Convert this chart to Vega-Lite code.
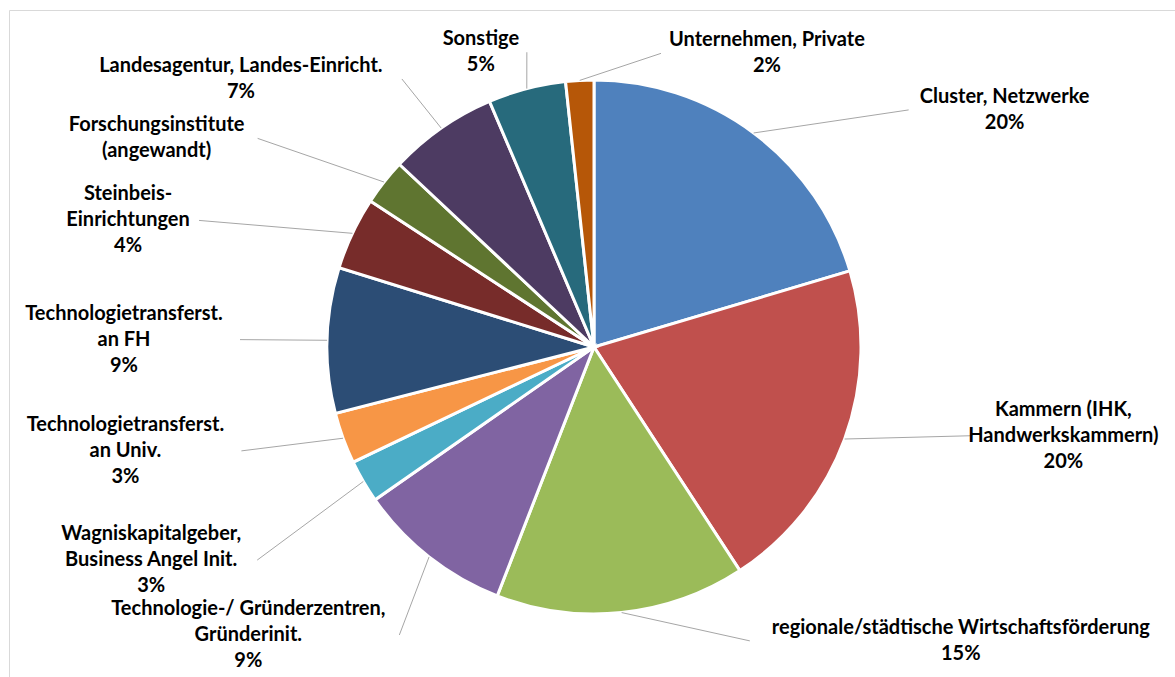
{
  "$schema": "https://vega.github.io/schema/vega-lite/v6.json",
  "width": 1170,
  "height": 674,
  "autosize": {"type": "none"},
  "padding": {"left": 9, "top": 10, "right": 0, "bottom": 0},
  "background": "white",
  "config": {
    "view": {"stroke": "#D9D9D9", "strokeWidth": 1},
    "style": {"view": {"stroke": "#D9D9D9", "strokeWidth": 1}}
  },
  "data": {
    "values": [
      {"category": "Cluster, Netzwerke", "value": 20.4, "label": ["Cluster, Netzwerke", "20%"]},
      {"category": "Kammern (IHK, Handwerkskammern)", "value": 20.4, "label": ["Kammern (IHK,", "Handwerkskammern)", "20%"]},
      {"category": "regionale/städtische Wirtschaftsförderung", "value": 15.1, "label": ["regionale/städtische Wirtschaftsförderung", "15%"]},
      {"category": "Technologie-/ Gründerzentren, Gründerinit.", "value": 9.4, "label": ["Technologie-/ Gründerzentren,", "Gründerinit.", "9%"]},
      {"category": "Wagniskapitalgeber, Business Angel Init.", "value": 2.6, "label": ["Wagniskapitalgeber,", "Business Angel Init.", "3%"]},
      {"category": "Technologietransferst. an Univ.", "value": 3.1, "label": ["Technologietransferst.", "an Univ.", "3%"]},
      {"category": "Technologietransferst. an FH", "value": 8.8, "label": ["Technologietransferst.", "an FH", "9%"]},
      {"category": "Steinbeis-Einrichtungen", "value": 4.4, "label": ["Steinbeis-", "Einrichtungen", "4%"]},
      {"category": "Forschungsinstitute (angewandt)", "value": 2.8, "label": ["Forschungsinstitute", "(angewandt)"]},
      {"category": "Landesagentur, Landes-Einricht.", "value": 6.6, "label": ["Landesagentur, Landes-Einricht.", "7%"]},
      {"category": "Sonstige", "value": 4.7, "label": ["Sonstige", "5%"]},
      {"category": "Unternehmen, Private", "value": 1.7, "label": ["Unternehmen, Private", "2%"]}
    ]
  },
  "transform": [
    {"window": [{"op": "row_number", "as": "rank"}]},
    {"joinaggregate": [{"op": "sum", "field": "value", "as": "total"}]}
  ],
  "resolve": {"scale": {"theta": "independent"}},
  "layer": [
    {
      "mark": {"type": "arc", "outerRadius": 267, "stroke": "white", "strokeWidth": 3},
      "encoding": {
        "theta": {"field": "value", "type": "quantitative", "stack": true},
        "order": {"field": "rank", "type": "quantitative"},
        "color": {
          "field": "category",
          "type": "nominal",
          "legend": null,
          "scale": {
            "domain": ["Cluster, Netzwerke", "Kammern (IHK, Handwerkskammern)", "regionale/städtische Wirtschaftsförderung", "Technologie-/ Gründerzentren, Gründerinit.", "Wagniskapitalgeber, Business Angel Init.", "Technologietransferst. an Univ.", "Technologietransferst. an FH", "Steinbeis-Einrichtungen", "Forschungsinstitute (angewandt)", "Landesagentur, Landes-Einricht.", "Sonstige", "Unternehmen, Private"],
            "range": ["#4F81BD", "#C0504D", "#9BBB59", "#8064A2", "#4BACC6", "#F79646", "#2C4D75", "#772C2A", "#5F7530", "#4D3B62", "#276A7C", "#B65708"]
          }
        }
      }
    },
    {
      "transform": [
        {"stack": "value", "groupby": [], "sort": [{"field": "rank", "order": "ascending"}], "as": ["value_start", "value_end"]}
      ],
      "mark": {"type": "rule", "color": "#A6A6A6", "strokeWidth": 1},
      "encoding": {
        "x": {"value": {"expr": "width/2+267*sin(PI*(datum.value_start+datum.value_end)/datum.total)"}},
        "y": {"value": {"expr": "height/2-267*cos(PI*(datum.value_start+datum.value_end)/datum.total)"}},
        "x2": {"value": {"expr": "width/2+(1/pow(pow(abs(sin(scale('layer_2_theta',(datum.value_start+datum.value_end)/2)))/470,4)+pow(abs(cos(scale('layer_2_theta',(datum.value_start+datum.value_end)/2)))/(cos(scale('layer_2_theta',(datum.value_start+datum.value_end)/2))>0?295:(sin(scale('layer_2_theta',(datum.value_start+datum.value_end)/2))>0?330:314)),4),0.25))*sin(scale('layer_2_theta',(datum.value_start+datum.value_end)/2))-(sin(scale('layer_2_theta',(datum.value_start+datum.value_end)/2))>0?1:-1)*(5*max(length(datum.label[0]),length(datum.label[1]),datum.label.length>2?length(datum.label[2]):0)+6)"}},
        "y2": {"value": {"expr": "height/2-(1/pow(pow(abs(sin(scale('layer_2_theta',(datum.value_start+datum.value_end)/2)))/470,4)+pow(abs(cos(scale('layer_2_theta',(datum.value_start+datum.value_end)/2)))/(cos(scale('layer_2_theta',(datum.value_start+datum.value_end)/2))>0?295:(sin(scale('layer_2_theta',(datum.value_start+datum.value_end)/2))>0?330:314)),4),0.25))*cos(scale('layer_2_theta',(datum.value_start+datum.value_end)/2))"}}
      }
    },
    {
      "mark": {
        "type": "text",
        "font": "Lato",
        "fontSize": 20,
        "fontWeight": "bold",
        "lineHeight": 26,
        "align": "center",
        "baseline": "middle",
        "color": "#000000",
        "dy": {"expr": "-(datum.label.length-1)*13"},
        "radius": {"expr": "1/pow(pow(abs(sin(scale('layer_2_theta',(datum.value_start+datum.value_end)/2)))/470,4)+pow(abs(cos(scale('layer_2_theta',(datum.value_start+datum.value_end)/2)))/(cos(scale('layer_2_theta',(datum.value_start+datum.value_end)/2))>0?295:(sin(scale('layer_2_theta',(datum.value_start+datum.value_end)/2))>0?330:314)),4),0.25)"}
      },
      "encoding": {
        "theta": {
          "field": "value",
          "type": "quantitative",
          "stack": true,
          "scale": {
            "domain": [10.2, 30.6, 48.35, 60.6, 66.6, 69.45, 75.4, 82.0, 85.6, 90.3, 95.95, 99.15],
            "range": [1.0472, 1.75755, 2.24624, 4.01775, 4.26385, 4.49422, 4.7281, 4.97766, 5.15745, 5.36165, 5.91667, 6.8155]
          }
        },
        "order": {"field": "rank", "type": "quantitative"},
        "text": {"field": "label"}
      }
    }
  ]
}
